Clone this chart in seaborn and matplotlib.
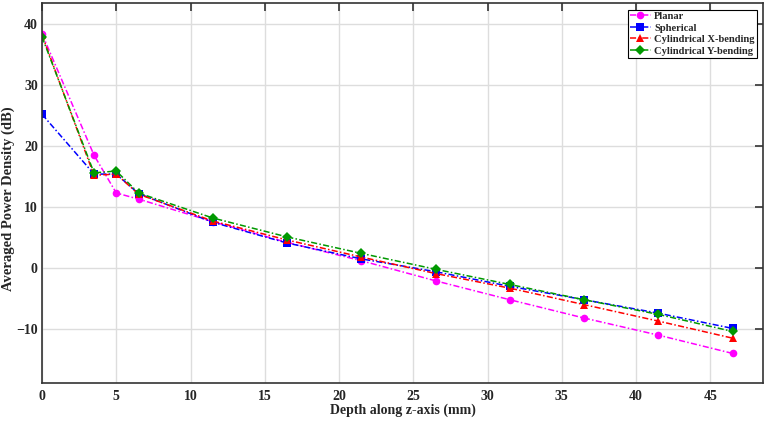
import seaborn as sns
import pandas as pd
import matplotlib
matplotlib.use('Agg')
import matplotlib.pyplot as plt

# depth points (mm)
depth = [0, 3.5, 5, 6.5, 11.5, 16.5, 21.5, 26.5, 31.5, 36.5, 41.5, 46.5]

planar = [38.4, 18.5, 12.3, 11.3, 7.6, 4.2, 1.2, -2.1, -5.2, -8.2, -11.0, -14.0]
spherical = [25.2, 15.4, 15.4, 12.2, 7.5, 4.1, 1.5, -0.6, -3.0, -5.2, -7.4, -9.9]
cyl_x = [38.2, 15.2, 15.4, 12.1, 7.7, 4.6, 1.8, -0.9, -3.3, -6.0, -8.7, -11.5]
cyl_y = [37.9, 15.6, 15.9, 12.3, 8.2, 5.1, 2.4, -0.2, -2.7, -5.2, -7.6, -10.4]

names = ['Planar', 'Spherical', 'Cylindrical X-bending', 'Cylindrical Y-bending']
colors = ['#ff00ff', '#0000ff', '#ff0000', '#009900']
marks = ['o', 's', '^', 'D']

df = pd.DataFrame({
    'depth': depth * 4,
    'apd': planar + spherical + cyl_x + cyl_y,
    'kind': [n for n in names for _ in depth],
})

sns.set_style('white')
plt.rcParams['font.family'] = ['Liberation Serif', 'DejaVu Serif']
plt.rcParams['font.weight'] = 'bold'

fig = plt.figure(figsize=(7.67, 4.22), dpi=100)
ax = fig.add_axes([0.0548, 0.0917, 0.9400, 0.9005])

sns.lineplot(data=df, x='depth', y='apd', hue='kind', style='kind',
             hue_order=names, style_order=names,
             palette=dict(zip(names, colors)),
             markers=dict(zip(names, marks)),
             dashes={n: (4, 1.5, 1, 1.5) for n in names},
             markersize=5.5, markeredgewidth=0, linewidth=1.1, ax=ax)

ax.set_xlim(0, 48.55)
ax.set_ylim(-18.9, 43.4)
ax.set_xticks(range(0, 50, 5))
ax.set_yticks(range(-10, 50, 10))
ax.grid(True, color='#dddddd', linewidth=1)
ax.tick_params(direction='in', length=6, width=1.2, top=True, right=True,
               labelsize=10, pad=3, color='#333333')
ax.tick_params(axis='x', pad=5)
for lab in ax.get_xticklabels() + ax.get_yticklabels():
    lab.set_fontweight('bold')
for s in ax.spines.values():
    s.set_linewidth(1.2)
    s.set_color('#333333')

ax.set_xlabel('Depth along z-axis (mm)', fontsize=10, fontweight='bold', labelpad=0)
ax.set_ylabel('Averaged Power Density (dB)', fontsize=10.5, fontweight='bold')
ax.yaxis.set_label_coords(-0.037, 0.485)

h, l = ax.get_legend_handles_labels()
leg = ax.legend(h, l, loc='upper right', frameon=True, fancybox=False,
                edgecolor='black', framealpha=1, borderpad=0.2, labelspacing=0.2,
                handlelength=2.0, handletextpad=0.3, borderaxespad=0.6,
                prop={'weight': 'bold', 'size': 7.6})
leg.get_frame().set_linewidth(0.8)

fig.savefig('out.png', dpi=100)
